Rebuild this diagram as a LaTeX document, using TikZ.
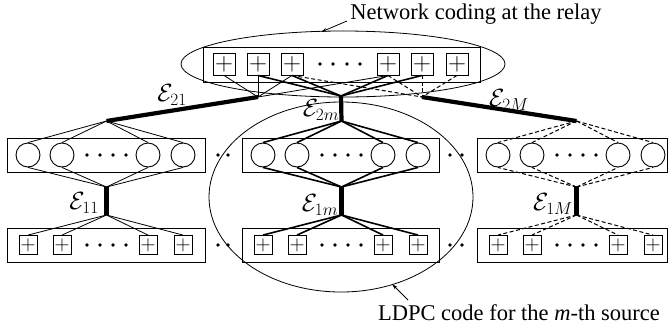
\documentclass[tikz,border=0pt]{standalone}
\usepackage{fontspec}
\setmainfont{Liberation Serif}
\usetikzlibrary{arrows.meta}
\begin{document}
\begin{tikzpicture}[x=1pt,y=-1pt,
  chk/.style={draw, line width=0.9pt, minimum width=18pt, minimum height=19pt, inner sep=0pt, font=\fontsize{21}{21}\selectfont},
  rchk/.style={draw, line width=0.9pt, minimum size=22pt, inner sep=0pt, font=\fontsize{25}{25}\selectfont},
  var/.style={draw, line width=0.9pt, circle, minimum size=24pt, inner sep=0pt},
  grpbox/.style={draw, line width=0.8pt, minimum height=34pt, anchor=north west, inner sep=0pt},
  dot/.style={circle, fill, inner sep=0pt, minimum size=3.6pt},
  thinl/.style={line width=0.8pt},
  medl/.style={line width=1.6pt},
  dashl/.style={line width=1pt, dash pattern=on 4pt off 2.5pt},
  thickl/.style={line width=4.2pt},
  elab/.style={font=\fontsize{24}{24}\selectfont, inner sep=0pt},
  txt/.style={font=\fontsize{22.5}{26}\selectfont, inner sep=0pt},
  ptr/.style={line width=0.8pt, -{Stealth[length=6pt,width=3.5pt]}}
]
\useasboundingbox (0,0) rectangle (669,333);

% ---------- relay ----------
\node[draw, line width=0.8pt, minimum width=277pt, minimum height=35pt, anchor=north west, inner sep=0pt] (rbox) at (203,47) {};
\foreach \i/\x in {1/224, 2/258, 3/292, 4/388, 5/422, 6/457} {
  \node[rchk] (r\i) at (\x,64) {$+$};
}
\foreach \x [count=\k] in {320,333,347,360} {
  \node[dot] (rd\k) at (\x,64) {};
}
\coordinate (jr1) at (258,97);
\coordinate (jr2) at (341,96);
\coordinate (jr3) at (422,97);
\foreach \i in {1,2,3,4} { \draw[thinl] (r\i.south) -- (jr1); }
\foreach \i in {2,3,4,5} { \draw[medl] (r\i.south) -- (jr2); }
\foreach \i in {3,4,5,6} { \draw[dashl] (r\i.south) -- (jr3); }

% ---------- source groups ----------
\foreach \g/\L/\W/\st in {1/7/198/thinl, 2/242/197/medl, 3/477/190/dashl} {
  \node[grpbox, minimum width=\W pt] (vb\g) at (\L,138) {};
  \node[grpbox, minimum width=\W pt] (cb\g) at (\L,228) {};
  \foreach \i/\dx in {1/21, 2/55, 3/141, 4/176} {
    \node[var] (v\g\i) at ({\L+\dx},155) {};
    \node[chk] (c\g\i) at ({\L+\dx},245) {$+$};
  }
  \foreach \dx [count=\k] in {80,93,106,119} {
    \node[dot] (vd\g\k) at ({\L+\dx},155) {};
    \node[dot] (cd\g\k) at ({\L+\dx},245) {};
  }
  \coordinate (jt\g) at ({\L+99.5},121);
  \coordinate (jm\g) at ({\L+99.5},187);
  \coordinate (jb\g) at ({\L+99.5},215);
  \foreach \i in {1,2,3,4} {
    \draw[\st] (jt\g) -- (v\g\i.north);
    \draw[\st] (jm\g) -- (v\g\i.south);
    \draw[\st] (jb\g) -- (c\g\i.north);
  }
  \draw[thickl] (jm\g) -- (jb\g);
}

% dots between groups
\foreach \x/\n in {218/a, 228/b, 450/c, 462/d} {
  \node[dot] (gv\n) at (\x,155) {};
  \node[dot] (gc\n) at (\x,245) {};
}

% thick links relay -> groups
\draw[thickl] (jr1) -- (jt1);
\draw[thickl] (jr2) -- (jt2);
\draw[thickl] (jr3) -- (jt3);

% edge labels
\node[elab] (e21) at (172,95) {$\mathcal{E}_{21}$};
\node[elab] (e2m) at (321,110) {$\mathcal{E}_{2m}$};
\node[elab] (e2M) at (509,100) {$\mathcal{E}_{2M}$};
\node[elab] (e11) at (84,203) {$\mathcal{E}_{11}$};
\node[elab] (e1m) at (320,205) {$\mathcal{E}_{1m}$};
\node[elab] (e1M) at (553,204) {$\mathcal{E}_{1M}$};

% ellipses
\draw[line width=0.8pt] (343,64) ellipse [x radius=162pt, y radius=33pt];
\draw[line width=0.8pt] (341,197) ellipse [x radius=132pt, y radius=95pt];

% labels and pointers
\node[txt] (toplab) at (476,14) {Network coding at the relay};
\coordinate (tp0) at (347,21);
\coordinate (tp1) at (321,32);
\draw[ptr] (tp0) -- (tp1);

\node[txt] (botlab) at (519,313) {LDPC code for the \textit{m}-th source};
\coordinate (bp0) at (408,300);
\coordinate (bp1) at (392,284);
\draw[ptr] (bp0) -- (bp1);
\end{tikzpicture}
\end{document}
